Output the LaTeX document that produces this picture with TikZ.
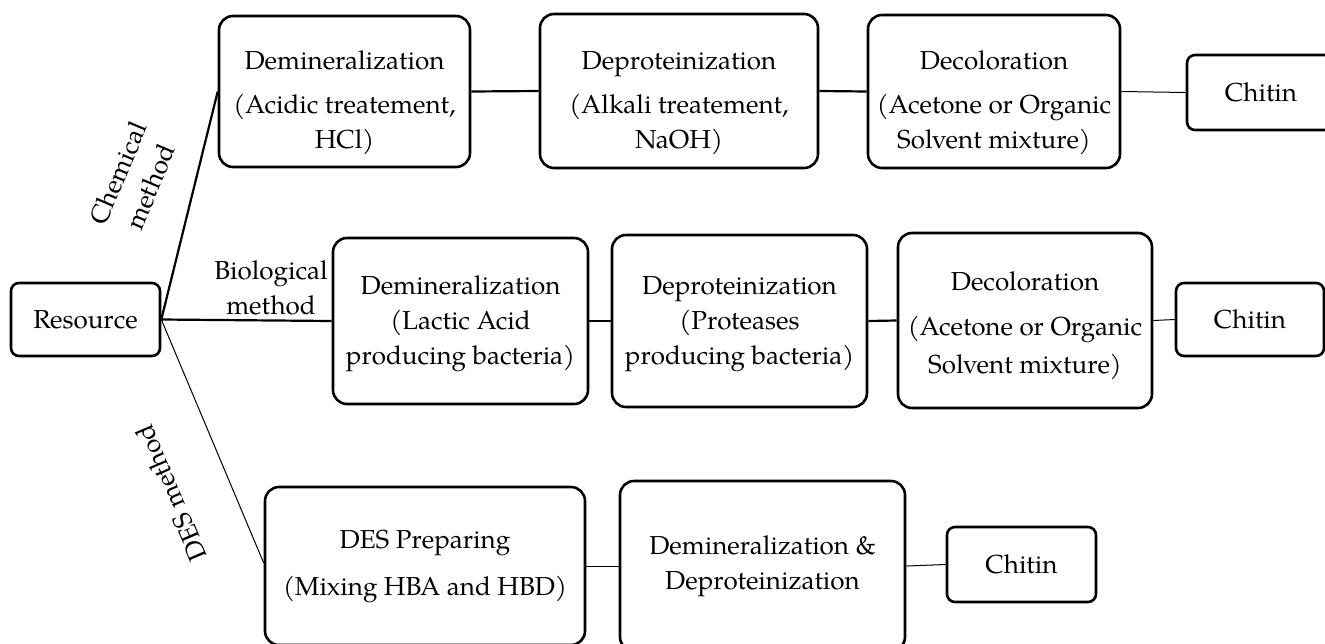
\documentclass[tikz,border=0pt]{standalone}
\usepackage{fontspec}
\setmainfont{TeX Gyre Pagella}
\begin{document}
\begin{tikzpicture}[x=0.5pt,y=-0.5pt,
  every node/.style={font=\fontsize{13}{17.5}\selectfont},
  bigbox/.style={draw, line width=1.3pt, rounded corners=7pt, align=center, inner sep=0pt},
  smallbox/.style={draw, line width=1.3pt, rounded corners=4pt, align=center, inner sep=0pt},
  lbl/.style={align=center, inner sep=0pt},
  thickline/.style={line width=1.1pt},
  thinline/.style={line width=0.5pt}]
\useasboundingbox (0,0) rectangle (1325,643);
% Resource
\node[smallbox, minimum width=74.5pt, minimum height=36.5pt] (res) at (85.5,319.5) {Resource};
% Chemical method row
\node[bigbox, minimum width=125.5pt, minimum height=75.5pt] (cd) at (344.5,91.5) {\rule{0pt}{21pt}Demineralization\\[4.5pt](Acidic treatement,\\HCl)};
\node[bigbox, minimum width=139pt, minimum height=77pt] (cp) at (679,91) {\rule{0pt}{21pt}Deproteinization\\[4.5pt](Alkali treatement,\\NaOH)};
\node[bigbox, minimum width=126pt, minimum height=76.5pt] (cc) at (994,91.5) {\rule{0pt}{21pt}Decoloration\\[4.5pt](Acetone or Organic\\Solvent mixture)};
\node[smallbox, minimum width=74pt, minimum height=37.5pt] (ct) at (1261,92.5) {Chitin};
% Biological method row
\node[bigbox, minimum width=127.5pt, minimum height=83pt] (bd) at (460.5,321) {\rule{0pt}{12pt}Demineralization\\(Lactic Acid\\producing bacteria)};
\node[bigbox, minimum width=127.5pt, minimum height=86pt] (bp) at (739.5,321) {\rule{0pt}{12pt}Deproteinization\\(Proteases\\producing bacteria)};
\node[bigbox, minimum width=127pt, minimum height=87.5pt] (bc) at (1025,320.5) {\rule{0pt}{14.5pt}Decoloration\\[5pt](Acetone or Organic\\[1.5pt]Solvent mixture)};
\node[smallbox, minimum width=74pt, minimum height=36.5pt] (bt) at (1250,319.5) {Chitin};
% DES method row
\node[bigbox, minimum width=160pt, minimum height=79pt] (dp) at (425,566) {DES Preparing\\[6pt](Mixing HBA and HBD)};
\node[bigbox, minimum width=142.5pt, minimum height=85pt] (dd) at (762.5,566) {Demineralization \&\\Deproteinization};
\node[smallbox, minimum width=74.5pt, minimum height=37.5pt] (dt) at (1021.5,564.5) {Chitin};
% method labels
\node[lbl, rotate=67] (lchem) at (134,180) {Chemical\\method};
\node[lbl] (lbio) at (271,288) {Biological\\method};
\node[lbl, rotate=113] (ldes) at (171,493) {DES method};
% connectors
\draw[thickline] (res.east) -- (cd.west);
\draw[thickline] (res.east) -- (bd.west);
\draw[thinline] (res.east) -- ([yshift=1.5pt]dp.west);
\draw[thickline] (cd.east) -- (cp.west);
\draw[thickline] (cp.east) -- (cc.west);
\draw[thinline] (cc.east) -- (ct.west);
\draw[thickline] (bd.east) -- (bp.west);
\draw[thickline] (bp.east) -- (bc.west);
\draw[thinline] (bc.east) -- (bt.west);
\draw[thinline] (dp.east) -- (dd.west);
\draw[thinline] (dd.east) -- (dt.west);
\end{tikzpicture}
\end{document}
